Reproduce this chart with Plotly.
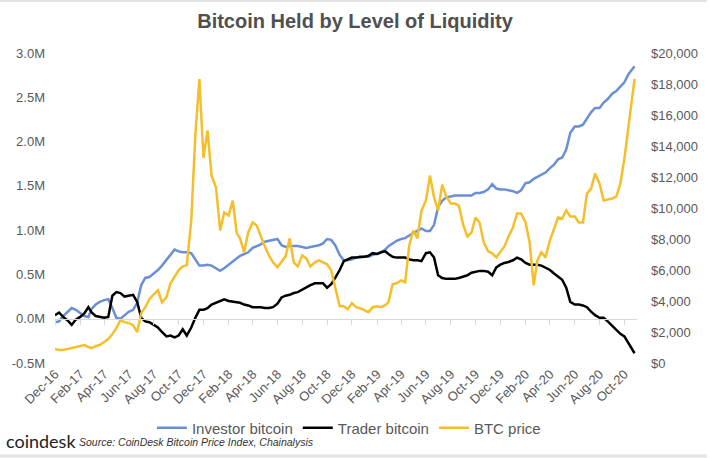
import pandas as pd
import plotly.graph_objects as go

# x grid: 1st, 11th, 21st of each month (Dec-16 .. Oct-20) + last reading
month_starts = pd.date_range("2016-12-01", "2020-10-01", freq="MS")
dates = [d + pd.Timedelta(days=k) for d in month_starts for k in (0, 10, 20)] + [pd.Timestamp("2020-10-26")]

# Investor bitcoin (millions of BTC)
investor = [
    -0.04, -0.03, 0.03,   0.08, 0.12, 0.10,   0.06, 0.03, 0.02,   0.11, 0.16, 0.19,
    0.21, 0.22, 0.12,     0.01, 0.00, 0.04,   0.08, 0.10, 0.18,   0.38, 0.46, 0.47,
    0.51, 0.55, 0.60,     0.66, 0.72, 0.78,   0.76, 0.75, 0.75,   0.74, 0.67, 0.60,
    0.60, 0.61, 0.60,     0.57, 0.54, 0.57,   0.61, 0.65, 0.69,   0.71, 0.73, 0.75,
    0.80, 0.82, 0.84,     0.87, 0.88, 0.89,   0.90, 0.83, 0.81,   0.82, 0.82, 0.82,
    0.81, 0.80, 0.81,     0.82, 0.83, 0.85,   0.90, 0.89, 0.83,   0.72, 0.66, 0.66,
    0.67, 0.69, 0.69,     0.70, 0.70, 0.72,   0.74, 0.75, 0.78,   0.82, 0.85, 0.88,
    0.90, 0.91, 0.94,     0.97, 0.99, 1.02,   0.99, 0.99, 1.06,   1.26, 1.33, 1.37,
    1.38, 1.39, 1.39,     1.39, 1.39, 1.39,   1.42, 1.42, 1.43,   1.46, 1.52, 1.47,
    1.46, 1.46, 1.45,     1.44, 1.42, 1.45,   1.53, 1.54, 1.58,   1.60, 1.62, 1.65,
    1.70, 1.74, 1.80,     1.82, 1.91, 2.10,   2.17, 2.17, 2.19,   2.26, 2.33, 2.38,
    2.38, 2.44, 2.48,     2.54, 2.57, 2.62,   2.67, 2.76, 2.83,   2.85,
]

# Trader bitcoin (millions of BTC)
trader = [
    0.04, 0.07, 0.02,     -0.02, -0.07, -0.01,  0.02, 0.06, 0.13,   0.07, 0.03, 0.02,
    0.01, 0.02, 0.26,     0.30, 0.29, 0.25,     0.26, 0.27, 0.19,   0.01, -0.03, -0.04,
    -0.07, -0.10, -0.15,  -0.20, -0.19, -0.21,  -0.19, -0.12, -0.19, -0.10, 0.01, 0.10,
    0.10, 0.12, 0.16,     0.18, 0.20, 0.22,     0.20, 0.19, 0.18,   0.18, 0.16, 0.15,
    0.13, 0.13, 0.13,     0.12, 0.12, 0.13,     0.17, 0.24, 0.26,   0.27, 0.29, 0.30,
    0.33, 0.36, 0.38,     0.40, 0.40, 0.40,     0.35, 0.39, 0.46,   0.55, 0.65, 0.67,
    0.69, 0.69, 0.70,     0.70, 0.71, 0.74,     0.73, 0.75, 0.76,   0.73, 0.70, 0.69,
    0.69, 0.69, 0.67,     0.66, 0.66, 0.65,     0.74, 0.75, 0.69,   0.49, 0.46, 0.45,
    0.45, 0.45, 0.46,     0.48, 0.49, 0.52,     0.53, 0.54, 0.54,   0.53, 0.49, 0.58,
    0.61, 0.63, 0.64,     0.66, 0.69, 0.67,     0.63, 0.61, 0.61,   0.61, 0.60, 0.58,
    0.55, 0.51, 0.47,     0.44, 0.35, 0.19,     0.16, 0.16, 0.15,   0.13, 0.08, 0.04,
    0.01, 0.01, -0.03,    -0.08, -0.12, -0.17,  -0.20, -0.28, -0.35, -0.39,
]

# BTC price (USD)
btc_price = [
    900, 840, 840,        900, 965, 1030,       1090, 1160, 1030,     965, 1090, 1160,
    1350, 1540, 1865,     2250, 2765, 2635,     2570, 2445, 1995,     3215, 3600, 4115,
    4435, 4695, 3920,     4245, 5145, 5530,     5980, 6235, 6300,     9200, 14660, 18325,
    13245, 15000, 12090,  11320, 8550, 9710,    9515, 10480, 8360,    8040, 7140, 8420,
    9065, 8875, 8165,     7520, 6945, 6495,     6175, 6495, 6880,     8040, 6495, 6235,
    6945, 6750, 6235,     6495, 6620, 6495,     6365, 5980, 4820,     3665, 3665, 3470,
    3860, 3600, 3535,     3410, 3280, 3600,     3665, 3600, 3730,     3920, 5080, 5145,
    5335, 5210, 7590,     8550, 8040, 9840,     10480, 12090, 10675,  9840, 11510, 10740,
    10290, 10290, 10160,  8875, 8165, 8420,     9390, 9065, 7780,     7200, 7075, 6815,
    7200, 7520, 8165,     8745, 9645, 9645,     9065, 7780, 5015,     6620, 7140, 6815,
    7910, 8680, 9390,     9325, 9840, 9450,     9450, 9065, 9065,     10930, 11250, 12220,
    11575, 10480, 10545,  10610, 10740, 11575,  13180, 15300, 17360,  18325,
]

left_tickvals = [-0.5, 0.0, 0.5, 1.0, 1.5, 2.0, 2.5, 3.0]
left_ticktext = ["-0.5M", "0.0M", "0.5M", "1.0M", "1.5M", "2.0M", "2.5M", "3.0M"]
right_tickvals = [0, 2000, 4000, 6000, 8000, 10000, 12000, 14000, 16000, 18000, 20000]
right_ticktext = ["$0", "$2,000", "$4,000", "$6,000", "$8,000", "$10,000",
                  "$12,000", "$14,000", "$16,000", "$18,000", "$20,000"]

BLUE = "#6a8fd5"
BLACK = "#000000"
YELLOW = "#f5bf2b"
GRAY = "#595959"

fig = go.Figure()
fig.add_trace(go.Scatter(x=dates, y=investor, name="Investor bitcoin", mode="lines",
                         line=dict(color=BLUE, width=2.5)))
fig.add_trace(go.Scatter(x=dates, y=trader, name="Trader bitcoin", mode="lines",
                         line=dict(color=BLACK, width=2.5)))
fig.add_trace(go.Scatter(x=dates, y=btc_price, name="BTC price", mode="lines",
                         line=dict(color=YELLOW, width=2.5), yaxis="y2"))
# invisible helper so the zero-line tick axis is drawn
fig.add_trace(go.Scatter(x=dates, y=investor, mode="lines", xaxis="x2", showlegend=False,
                         hoverinfo="skip", line=dict(color="rgba(0,0,0,0)", width=0)))

zero_pos = 0.5 / 3.5

fig.update_layout(
    width=710, height=458,
    margin=dict(l=55, r=64, t=53, b=95),
    paper_bgcolor="white", plot_bgcolor="white",
    font=dict(family="Liberation Sans, Arial, sans-serif", color=GRAY, size=13),
    title=dict(text="<b>Bitcoin Held by Level of Liquidity</b>", x=0.5, xanchor="center",
               y=0.955, yanchor="middle", font=dict(size=20, color="#505050")),
    xaxis=dict(type="date", range=["2016-12-01", "2020-11-01"], tick0="2016-12-01",
               dtick="M2", tickformat="%b-%y", tickangle=-45, showgrid=False,
               zeroline=False, showline=False, ticks="", tickfont=dict(size=13, color=GRAY)),
    xaxis2=dict(type="date", matches="x", overlaying="x", anchor="free", position=zero_pos,
                tick0="2016-12-01", dtick="M2", showticklabels=False, ticks="outside",
                ticklen=5, tickcolor="#d9d9d9", showline=True, linecolor="#d9d9d9",
                linewidth=1, showgrid=False, zeroline=False),
    yaxis=dict(range=[-0.5, 3.0], tickvals=left_tickvals, ticktext=left_ticktext,
               showgrid=False, zeroline=False, showline=False, ticks="",
               ticklabelstandoff=9, tickfont=dict(size=13, color=GRAY)),
    yaxis2=dict(range=[0, 20000], overlaying="y", side="right", tickvals=right_tickvals,
                ticktext=right_ticktext, showgrid=False, zeroline=False, showline=False,
                ticks="", ticklabelstandoff=13, tickfont=dict(size=13, color=GRAY)),
    legend=dict(orientation="h", x=0.505, xanchor="center", y=-0.21, yanchor="middle",
                font=dict(size=15, color=GRAY), bgcolor="rgba(0,0,0,0)"),
    showlegend=True,
    annotations=[
        dict(text="coindesk", xref="paper", yref="paper", x=-0.087, y=-0.252,
             xanchor="left", yanchor="middle", showarrow=False,
             font=dict(family="Lato, Liberation Sans, sans-serif", size=18, color="#222222")),
        dict(text="<i>Source: CoinDesk Bitcoin Price Index, Chainalysis</i>", xref="paper",
             yref="paper", x=0.037, y=-0.254, xanchor="left", yanchor="middle",
             showarrow=False, font=dict(size=10.5, color="#333333")),
    ],
    shapes=[
        dict(type="line", xref="paper", yref="paper", x0=-0.1, x1=1.12,
             y0=(363 - 1) / 310, y1=(363 - 1) / 310, line=dict(color="#e3e3e3", width=2)),
        dict(type="line", xref="paper", yref="paper", x0=-0.1, x1=1.12,
             y0=(363 - 456) / 310, y1=(363 - 456) / 310, line=dict(color="#e3e3e3", width=3)),
    ],
)

fig.write_html("out.html", config={"displayModeBar": False},
               post_script="document.body.style.margin='0px';document.body.style.padding='0px';")
